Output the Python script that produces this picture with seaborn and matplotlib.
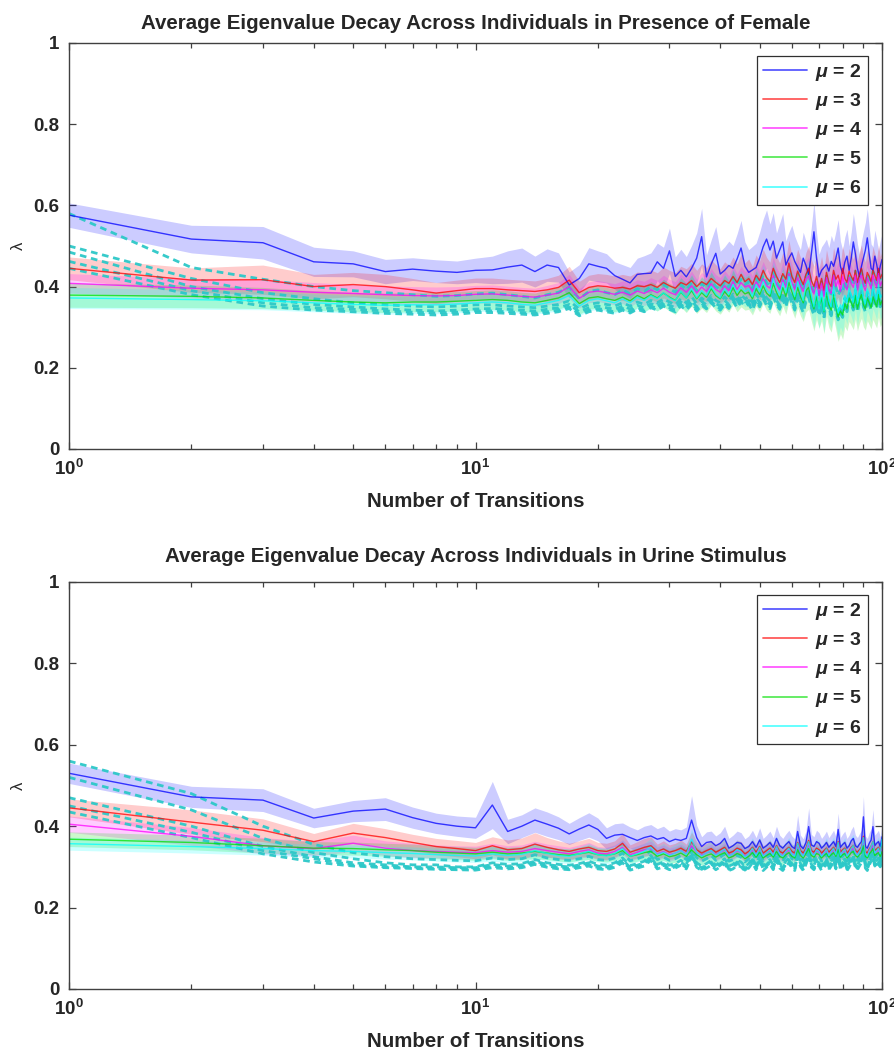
import numpy as np
import matplotlib
matplotlib.use('Agg')
import matplotlib.pyplot as plt
import seaborn as sns
from matplotlib.lines import Line2D
from matplotlib.ticker import LogLocator, NullFormatter

# ---------------- data ----------------
transitions = list(range(1, 101))
mu_labels = ['2', '3', '4', '5', '6']

# Presence of Female (top panel): mean eigenvalue per mu
F_mu2 = [0.576,0.517,0.508,0.461,0.456,0.437,0.443,0.438,0.435,0.440,
         0.441,0.448,0.453,0.437,0.453,0.447,0.404,0.420,0.456,0.450,
         0.445,0.427,0.418,0.409,0.430,0.432,0.433,0.461,0.445,0.488,
         0.425,0.440,0.424,0.445,0.470,0.523,0.424,0.455,0.482,0.431,
         0.440,0.452,0.445,0.468,0.495,0.450,0.435,0.441,0.447,0.470,
         0.498,0.517,0.490,0.512,0.470,0.490,0.510,0.453,0.470,0.483,
         0.462,0.448,0.435,0.470,0.452,0.430,0.480,0.535,0.470,0.424,
         0.440,0.447,0.455,0.438,0.462,0.450,0.470,0.495,0.450,0.432,
         0.460,0.475,0.440,0.470,0.510,0.480,0.445,0.424,0.450,0.470,
         0.490,0.520,0.480,0.445,0.440,0.475,0.455,0.430,0.450,0.467]
F_mu3 = [0.445,0.416,0.417,0.400,0.405,0.400,0.392,0.384,0.390,0.395,
         0.395,0.392,0.390,0.388,0.392,0.398,0.416,0.385,0.398,0.402,
         0.400,0.396,0.398,0.394,0.402,0.400,0.405,0.398,0.410,0.402,
         0.396,0.410,0.404,0.415,0.400,0.412,0.405,0.420,0.410,0.402,
         0.415,0.408,0.425,0.410,0.430,0.412,0.420,0.405,0.428,0.415,
         0.440,0.422,0.412,0.445,0.425,0.410,0.432,0.418,0.458,0.425,
         0.410,0.438,0.420,0.405,0.430,0.445,0.415,0.400,0.425,0.395,
         0.420,0.390,0.435,0.410,0.400,0.440,0.418,0.428,0.405,0.445,
         0.420,0.410,0.438,0.425,0.415,0.440,0.410,0.430,0.445,0.420,
         0.408,0.435,0.425,0.412,0.440,0.428,0.415,0.445,0.420,0.430]
F_mu4 = [0.408,0.396,0.392,0.386,0.383,0.380,0.378,0.377,0.378,0.381,
         0.382,0.379,0.376,0.374,0.379,0.384,0.400,0.371,0.386,0.389,
         0.385,0.381,0.386,0.379,0.389,0.383,0.392,0.385,0.396,0.386,
         0.380,0.397,0.386,0.402,0.384,0.399,0.388,0.407,0.393,0.386,
         0.402,0.390,0.412,0.393,0.410,0.399,0.403,0.388,0.412,0.398,
         0.420,0.402,0.396,0.428,0.405,0.392,0.418,0.398,0.432,0.412,
         0.392,0.423,0.402,0.388,0.418,0.427,0.398,0.382,0.412,0.378,
         0.408,0.375,0.422,0.392,0.383,0.428,0.400,0.415,0.388,0.425,
         0.402,0.392,0.423,0.408,0.398,0.428,0.392,0.418,0.428,0.402,
         0.390,0.422,0.408,0.395,0.428,0.410,0.398,0.432,0.402,0.412]
F_mu5 = [0.379,0.376,0.372,0.366,0.362,0.360,0.362,0.362,0.364,0.366,
         0.368,0.366,0.362,0.360,0.366,0.372,0.385,0.358,0.372,0.375,
         0.370,0.366,0.374,0.365,0.378,0.370,0.380,0.372,0.384,0.374,
         0.366,0.386,0.372,0.390,0.370,0.385,0.374,0.395,0.378,0.370,
         0.388,0.375,0.398,0.378,0.392,0.382,0.386,0.370,0.395,0.380,
         0.402,0.384,0.376,0.408,0.386,0.370,0.398,0.376,0.410,0.388,
         0.368,0.398,0.376,0.360,0.390,0.398,0.365,0.345,0.375,0.350,
         0.372,0.338,0.385,0.355,0.342,0.380,0.350,0.325,0.340,0.330,
         0.358,0.345,0.372,0.360,0.348,0.378,0.345,0.366,0.380,0.355,
         0.345,0.372,0.360,0.348,0.375,0.362,0.350,0.380,0.355,0.365]
F_mu6 = [0.372,0.368,0.365,0.360,0.356,0.354,0.355,0.355,0.357,0.360,
         0.362,0.360,0.356,0.354,0.360,0.366,0.378,0.352,0.366,0.370,
         0.365,0.360,0.370,0.360,0.374,0.366,0.378,0.370,0.385,0.372,
         0.365,0.388,0.372,0.395,0.372,0.390,0.378,0.400,0.382,0.372,
         0.395,0.380,0.405,0.385,0.400,0.388,0.395,0.375,0.405,0.388,
         0.412,0.392,0.382,0.420,0.395,0.378,0.410,0.385,0.425,0.400,
         0.375,0.412,0.388,0.365,0.405,0.415,0.380,0.350,0.392,0.345,
         0.388,0.340,0.405,0.365,0.350,0.400,0.360,0.335,0.355,0.345,
         0.378,0.360,0.395,0.380,0.362,0.402,0.358,0.388,0.405,0.372,
         0.358,0.395,0.380,0.362,0.400,0.385,0.368,0.405,0.372,0.380]

# Presence of Female: spread (shaded band half-width)
F_mu2_sd = [0.030,0.034,0.040,0.036,0.032,0.030,0.028,0.028,0.028,0.030,
            0.034,0.040,0.042,0.038,0.040,0.036,0.032,0.034,0.040,0.038,
            0.036,0.034,0.036,0.038,0.040,0.044,0.050,0.046,0.052,0.056,
            0.048,0.052,0.050,0.056,0.062,0.070,0.054,0.060,0.066,0.056,
            0.058,0.060,0.056,0.062,0.068,0.060,0.056,0.058,0.060,0.064,
            0.068,0.072,0.064,0.070,0.062,0.066,0.070,0.060,0.064,0.068,
            0.062,0.058,0.056,0.064,0.060,0.058,0.066,0.074,0.064,0.056,
            0.058,0.060,0.062,0.058,0.064,0.060,0.066,0.070,0.062,0.058,
            0.062,0.066,0.060,0.064,0.070,0.066,0.060,0.056,0.062,0.066,
            0.068,0.072,0.066,0.060,0.058,0.064,0.062,0.058,0.062,0.064]
F_mu3_sd = [0.028,0.030,0.036,0.030,0.030,0.030,0.028,0.026,0.026,0.026,
            0.026,0.026,0.026,0.026,0.028,0.030,0.034,0.028,0.030,0.030,
            0.030,0.030,0.032,0.032,0.034,0.034,0.036,0.036,0.038,0.038,
            0.038,0.040,0.040,0.042,0.040,0.044,0.042,0.046,0.044,0.042,
            0.046,0.044,0.048,0.046,0.050,0.046,0.048,0.044,0.050,0.048,
            0.052,0.050,0.048,0.054,0.050,0.048,0.052,0.050,0.056,0.052,
            0.050,0.054,0.052,0.050,0.054,0.056,0.052,0.050,0.054,0.050,
            0.054,0.050,0.056,0.052,0.050,0.056,0.052,0.054,0.050,0.056,
            0.054,0.052,0.056,0.054,0.052,0.058,0.052,0.056,0.058,0.054,
            0.052,0.056,0.054,0.052,0.058,0.054,0.052,0.058,0.054,0.056]
F_mu4_sd = [0.024,0.024,0.026,0.024,0.022,0.022,0.022,0.022,0.022,0.022,
            0.022,0.022,0.022,0.022,0.024,0.026,0.030,0.024,0.026,0.026,
            0.026,0.026,0.028,0.028,0.028,0.030,0.030,0.030,0.032,0.032,
            0.032,0.034,0.034,0.036,0.034,0.036,0.036,0.038,0.036,0.036,
            0.038,0.036,0.040,0.038,0.040,0.038,0.040,0.038,0.042,0.040,
            0.042,0.040,0.040,0.044,0.042,0.040,0.044,0.042,0.046,0.044,
            0.042,0.046,0.044,0.042,0.046,0.046,0.044,0.042,0.046,0.042,
            0.046,0.042,0.046,0.044,0.042,0.046,0.044,0.046,0.042,0.046,
            0.044,0.042,0.046,0.044,0.042,0.048,0.044,0.046,0.048,0.044,
            0.042,0.046,0.044,0.042,0.048,0.044,0.042,0.048,0.044,0.046]
F_mu5_sd = [0.030,0.028,0.026,0.024,0.024,0.024,0.024,0.024,0.024,0.024,
            0.024,0.024,0.024,0.024,0.026,0.028,0.030,0.026,0.028,0.028,
            0.028,0.028,0.030,0.030,0.030,0.032,0.032,0.032,0.034,0.034,
            0.034,0.036,0.036,0.038,0.036,0.038,0.038,0.040,0.038,0.038,
            0.040,0.038,0.042,0.040,0.042,0.040,0.042,0.040,0.044,0.042,
            0.044,0.042,0.042,0.046,0.044,0.042,0.046,0.044,0.048,0.046,
            0.046,0.050,0.048,0.046,0.052,0.054,0.050,0.054,0.056,0.052,
            0.056,0.054,0.058,0.056,0.054,0.058,0.056,0.060,0.056,0.060,
            0.056,0.054,0.058,0.056,0.054,0.058,0.054,0.056,0.058,0.054,
            0.052,0.056,0.054,0.052,0.056,0.054,0.052,0.056,0.054,0.054]
F_mu6_sd = [0.026,0.024,0.022,0.022,0.022,0.022,0.022,0.022,0.022,0.022,
            0.022,0.022,0.022,0.022,0.024,0.026,0.028,0.024,0.026,0.026,
            0.026,0.026,0.028,0.028,0.028,0.030,0.030,0.030,0.032,0.032,
            0.032,0.034,0.034,0.036,0.034,0.036,0.036,0.038,0.036,0.036,
            0.038,0.036,0.040,0.038,0.040,0.038,0.040,0.038,0.042,0.040,
            0.042,0.040,0.040,0.044,0.042,0.040,0.044,0.042,0.046,0.044,
            0.044,0.048,0.046,0.044,0.050,0.052,0.048,0.052,0.054,0.050,
            0.054,0.052,0.056,0.054,0.052,0.056,0.054,0.058,0.054,0.058,
            0.054,0.052,0.056,0.054,0.052,0.056,0.052,0.054,0.056,0.052,
            0.050,0.054,0.052,0.050,0.054,0.052,0.050,0.054,0.052,0.052]

# Presence of Female: dashed reference curves
F_dash1 = [0.580,0.447,0.418,0.400,0.390,0.385,0.380,0.376,0.378,0.382,
           0.384,0.380,0.376,0.372,0.380,0.386,0.398,0.370,0.388,0.392,
           0.385,0.380,0.392,0.382,0.395,0.388,0.400,0.392,0.405,0.395,
           0.386,0.405,0.392,0.410,0.390,0.408,0.396,0.415,0.400,0.392,
           0.412,0.398,0.420,0.402,0.418,0.405,0.412,0.395,0.420,0.405,
           0.428,0.410,0.400,0.435,0.412,0.398,0.428,0.405,0.440,0.418,
           0.398,0.430,0.410,0.392,0.425,0.438,0.405,0.385,0.418,0.380,
           0.412,0.375,0.430,0.395,0.382,0.428,0.400,0.378,0.392,0.385,
           0.415,0.398,0.432,0.418,0.402,0.438,0.398,0.425,0.440,0.410,
           0.398,0.432,0.418,0.402,0.438,0.422,0.408,0.442,0.412,0.420]
F_dash2 = [0.500,0.420,0.385,0.370,0.360,0.355,0.352,0.350,0.352,0.355,
           0.355,0.352,0.350,0.348,0.352,0.356,0.365,0.345,0.356,0.360,
           0.356,0.352,0.360,0.352,0.362,0.356,0.366,0.360,0.370,0.362,
           0.355,0.370,0.360,0.375,0.358,0.372,0.362,0.378,0.366,0.360,
           0.375,0.364,0.382,0.366,0.380,0.370,0.375,0.360,0.382,0.368,
           0.388,0.372,0.364,0.392,0.374,0.362,0.386,0.368,0.396,0.378,
           0.360,0.388,0.370,0.354,0.382,0.392,0.366,0.348,0.376,0.345,
           0.372,0.340,0.388,0.358,0.346,0.385,0.356,0.336,0.352,0.342,
           0.372,0.356,0.388,0.375,0.360,0.392,0.355,0.380,0.394,0.368,
           0.356,0.386,0.374,0.360,0.392,0.378,0.364,0.396,0.368,0.375]
F_dash3 = [0.485,0.400,0.370,0.356,0.350,0.345,0.342,0.340,0.342,0.345,
           0.346,0.344,0.342,0.340,0.344,0.348,0.356,0.338,0.348,0.352,
           0.348,0.344,0.352,0.345,0.354,0.348,0.358,0.352,0.362,0.354,
           0.348,0.362,0.352,0.366,0.350,0.364,0.355,0.370,0.358,0.352,
           0.366,0.356,0.374,0.358,0.372,0.362,0.366,0.352,0.374,0.360,
           0.380,0.364,0.356,0.384,0.366,0.354,0.378,0.360,0.388,0.370,
           0.352,0.380,0.362,0.346,0.374,0.384,0.358,0.340,0.368,0.338,
           0.364,0.332,0.380,0.350,0.338,0.376,0.348,0.328,0.344,0.334,
           0.364,0.348,0.380,0.366,0.352,0.384,0.347,0.372,0.386,0.360,
           0.348,0.378,0.366,0.352,0.384,0.370,0.356,0.388,0.360,0.367]
F_dash4 = [0.462,0.390,0.360,0.348,0.344,0.340,0.337,0.335,0.337,0.340,
           0.340,0.338,0.336,0.334,0.338,0.342,0.350,0.332,0.342,0.346,
           0.342,0.338,0.346,0.339,0.348,0.342,0.352,0.346,0.356,0.348,
           0.342,0.356,0.346,0.360,0.344,0.358,0.349,0.364,0.352,0.346,
           0.360,0.350,0.368,0.352,0.366,0.356,0.360,0.346,0.368,0.354,
           0.374,0.358,0.350,0.378,0.360,0.348,0.372,0.354,0.382,0.364,
           0.346,0.374,0.356,0.340,0.368,0.378,0.352,0.334,0.362,0.332,
           0.358,0.326,0.374,0.344,0.332,0.370,0.342,0.322,0.338,0.328,
           0.358,0.342,0.374,0.360,0.346,0.378,0.341,0.366,0.380,0.354,
           0.342,0.372,0.360,0.346,0.378,0.364,0.350,0.382,0.354,0.361]
F_dash5 = [0.445,0.380,0.352,0.342,0.338,0.334,0.332,0.330,0.332,0.336,
           0.336,0.334,0.332,0.330,0.334,0.338,0.346,0.328,0.338,0.342,
           0.338,0.334,0.342,0.335,0.344,0.338,0.348,0.342,0.352,0.344,
           0.338,0.352,0.342,0.356,0.340,0.354,0.345,0.360,0.348,0.342,
           0.356,0.346,0.364,0.348,0.362,0.352,0.356,0.342,0.364,0.350,
           0.370,0.354,0.346,0.374,0.356,0.344,0.368,0.350,0.378,0.360,
           0.342,0.370,0.352,0.336,0.364,0.374,0.348,0.330,0.358,0.328,
           0.354,0.322,0.370,0.340,0.328,0.366,0.338,0.318,0.334,0.324,
           0.354,0.338,0.370,0.356,0.342,0.374,0.337,0.362,0.376,0.350,
           0.338,0.368,0.356,0.342,0.374,0.360,0.346,0.378,0.350,0.357]

# Urine Stimulus (bottom panel): mean eigenvalue per mu
U_mu2 = [0.530,0.472,0.464,0.420,0.437,0.442,0.421,0.407,0.400,0.396,
         0.452,0.387,0.400,0.415,0.405,0.395,0.381,0.393,0.403,0.392,
         0.370,0.378,0.380,0.372,0.365,0.372,0.376,0.368,0.372,0.362,
         0.368,0.365,0.370,0.415,0.372,0.350,0.360,0.362,0.352,0.358,
         0.370,0.346,0.352,0.360,0.358,0.345,0.350,0.362,0.348,0.366,
         0.346,0.352,0.360,0.348,0.370,0.352,0.346,0.355,0.362,0.350,
         0.345,0.387,0.352,0.345,0.360,0.399,0.354,0.350,0.362,0.358,
         0.346,0.352,0.360,0.348,0.355,0.362,0.350,0.392,0.348,0.355,
         0.360,0.346,0.352,0.364,0.370,0.352,0.348,0.356,0.362,0.423,
         0.350,0.346,0.358,0.366,0.399,0.352,0.358,0.362,0.350,0.374]
U_mu3 = [0.445,0.410,0.390,0.362,0.383,0.372,0.360,0.350,0.345,0.340,
         0.352,0.342,0.345,0.356,0.348,0.342,0.338,0.344,0.348,0.340,
         0.338,0.344,0.358,0.336,0.342,0.348,0.352,0.338,0.344,0.336,
         0.340,0.346,0.338,0.362,0.342,0.334,0.340,0.345,0.336,0.342,
         0.348,0.334,0.338,0.346,0.342,0.332,0.338,0.348,0.336,0.350,
         0.334,0.340,0.346,0.336,0.352,0.338,0.334,0.342,0.348,0.338,
         0.334,0.360,0.340,0.334,0.346,0.365,0.340,0.336,0.346,0.342,
         0.334,0.340,0.346,0.336,0.342,0.348,0.338,0.362,0.336,0.342,
         0.346,0.334,0.340,0.348,0.352,0.340,0.336,0.342,0.348,0.375,
         0.338,0.334,0.344,0.350,0.362,0.340,0.344,0.348,0.338,0.352]
U_mu4 = [0.405,0.375,0.352,0.345,0.358,0.346,0.340,0.338,0.336,0.335,
         0.340,0.336,0.338,0.345,0.340,0.336,0.332,0.338,0.342,0.334,
         0.332,0.338,0.348,0.330,0.336,0.342,0.345,0.332,0.338,0.330,
         0.334,0.340,0.332,0.352,0.336,0.328,0.334,0.339,0.330,0.336,
         0.342,0.328,0.332,0.340,0.336,0.326,0.332,0.342,0.330,0.344,
         0.328,0.334,0.340,0.330,0.346,0.332,0.328,0.336,0.342,0.332,
         0.328,0.352,0.334,0.328,0.340,0.356,0.334,0.330,0.340,0.336,
         0.328,0.334,0.340,0.330,0.336,0.342,0.332,0.354,0.330,0.336,
         0.340,0.328,0.334,0.342,0.346,0.334,0.330,0.336,0.342,0.365,
         0.332,0.328,0.338,0.344,0.355,0.334,0.338,0.342,0.332,0.346]
U_mu5 = [0.368,0.360,0.352,0.346,0.345,0.342,0.340,0.336,0.334,0.332,
         0.336,0.332,0.334,0.338,0.334,0.330,0.328,0.332,0.336,0.330,
         0.328,0.332,0.340,0.326,0.330,0.335,0.338,0.326,0.332,0.325,
         0.328,0.334,0.326,0.342,0.330,0.322,0.328,0.332,0.324,0.330,
         0.335,0.322,0.326,0.333,0.329,0.320,0.326,0.335,0.324,0.336,
         0.322,0.328,0.333,0.324,0.338,0.326,0.322,0.330,0.335,0.326,
         0.322,0.342,0.328,0.322,0.333,0.345,0.328,0.324,0.333,0.330,
         0.322,0.328,0.333,0.324,0.330,0.335,0.326,0.343,0.324,0.330,
         0.333,0.322,0.328,0.335,0.338,0.328,0.324,0.330,0.335,0.352,
         0.326,0.322,0.332,0.337,0.345,0.328,0.332,0.335,0.326,0.338]
U_mu6 = [0.357,0.350,0.345,0.340,0.338,0.335,0.333,0.330,0.328,0.327,
         0.332,0.328,0.331,0.340,0.333,0.328,0.326,0.332,0.338,0.330,
         0.327,0.333,0.345,0.326,0.332,0.338,0.348,0.330,0.336,0.328,
         0.334,0.340,0.330,0.368,0.336,0.326,0.334,0.340,0.328,0.336,
         0.344,0.326,0.332,0.342,0.336,0.324,0.332,0.346,0.328,0.348,
         0.326,0.334,0.342,0.328,0.350,0.332,0.326,0.338,0.346,0.332,
         0.326,0.358,0.336,0.326,0.342,0.362,0.334,0.328,0.342,0.338,
         0.326,0.334,0.344,0.328,0.338,0.346,0.330,0.360,0.328,0.338,
         0.344,0.326,0.334,0.346,0.352,0.334,0.328,0.338,0.346,0.372,
         0.332,0.326,0.340,0.350,0.362,0.334,0.340,0.346,0.332,0.368]

# Urine Stimulus: spread (shaded band half-width)
U_mu2_sd = [0.025,0.026,0.028,0.024,0.026,0.028,0.026,0.025,0.025,0.026,
            0.058,0.030,0.028,0.030,0.030,0.028,0.026,0.028,0.030,0.028,
            0.026,0.028,0.028,0.026,0.026,0.028,0.028,0.026,0.028,0.026,
            0.026,0.026,0.028,0.060,0.030,0.024,0.026,0.026,0.024,0.026,
            0.030,0.024,0.026,0.028,0.026,0.024,0.026,0.028,0.024,0.030,
            0.024,0.026,0.028,0.024,0.030,0.026,0.024,0.026,0.028,0.026,
            0.024,0.040,0.026,0.024,0.028,0.046,0.026,0.024,0.028,0.026,
            0.024,0.026,0.028,0.024,0.026,0.028,0.024,0.040,0.024,0.026,
            0.028,0.024,0.026,0.028,0.030,0.026,0.024,0.026,0.028,0.050,
            0.026,0.024,0.026,0.028,0.042,0.026,0.026,0.028,0.024,0.030]
U_mu3_sd = [0.022,0.030,0.028,0.020,0.024,0.022,0.020,0.020,0.020,0.020,
            0.022,0.024,0.026,0.028,0.024,0.022,0.020,0.020,0.022,0.020,
            0.020,0.020,0.024,0.018,0.020,0.022,0.022,0.018,0.020,0.018,
            0.018,0.020,0.018,0.024,0.020,0.018,0.018,0.020,0.018,0.020,
            0.020,0.018,0.018,0.020,0.020,0.018,0.018,0.020,0.018,0.020,
            0.018,0.018,0.020,0.018,0.020,0.018,0.018,0.018,0.020,0.018,
            0.018,0.022,0.018,0.018,0.020,0.024,0.018,0.018,0.020,0.018,
            0.018,0.018,0.020,0.018,0.018,0.020,0.018,0.022,0.018,0.018,
            0.020,0.018,0.018,0.020,0.020,0.018,0.018,0.018,0.020,0.026,
            0.018,0.018,0.018,0.020,0.024,0.018,0.018,0.020,0.018,0.020]
U_mu4_sd = [0.020,0.022,0.020,0.018,0.020,0.018,0.018,0.016,0.016,0.016,
            0.018,0.016,0.016,0.018,0.016,0.016,0.016,0.016,0.018,0.016,
            0.016,0.016,0.018,0.016,0.016,0.016,0.018,0.016,0.016,0.016,
            0.016,0.016,0.016,0.020,0.016,0.016,0.016,0.016,0.016,0.016,
            0.018,0.016,0.016,0.016,0.016,0.016,0.016,0.018,0.016,0.018,
            0.016,0.016,0.018,0.016,0.018,0.016,0.016,0.016,0.018,0.016,
            0.016,0.020,0.016,0.016,0.018,0.022,0.016,0.016,0.018,0.016,
            0.016,0.016,0.018,0.016,0.016,0.018,0.016,0.020,0.016,0.016,
            0.018,0.016,0.016,0.018,0.018,0.016,0.016,0.016,0.018,0.024,
            0.016,0.016,0.016,0.018,0.022,0.016,0.016,0.018,0.016,0.018]
U_mu5_sd = [0.018,0.018,0.018,0.016,0.016,0.016,0.016,0.016,0.016,0.016,
            0.016,0.016,0.016,0.018,0.016,0.016,0.016,0.016,0.018,0.016,
            0.016,0.016,0.018,0.016,0.016,0.016,0.018,0.016,0.016,0.016,
            0.018,0.018,0.018,0.020,0.018,0.018,0.018,0.018,0.018,0.018,
            0.020,0.018,0.018,0.018,0.018,0.018,0.018,0.020,0.018,0.020,
            0.018,0.018,0.020,0.018,0.020,0.018,0.018,0.018,0.020,0.018,
            0.018,0.022,0.018,0.018,0.020,0.022,0.018,0.018,0.020,0.018,
            0.018,0.018,0.020,0.018,0.018,0.020,0.018,0.022,0.018,0.018,
            0.020,0.018,0.018,0.020,0.020,0.018,0.018,0.018,0.020,0.024,
            0.018,0.018,0.018,0.020,0.022,0.018,0.018,0.020,0.018,0.020]
U_mu6_sd = [0.016,0.016,0.016,0.016,0.016,0.016,0.016,0.016,0.016,0.016,
            0.018,0.018,0.018,0.020,0.018,0.018,0.018,0.018,0.020,0.018,
            0.020,0.020,0.022,0.020,0.020,0.020,0.022,0.020,0.022,0.020,
            0.022,0.022,0.022,0.026,0.022,0.022,0.022,0.024,0.022,0.024,
            0.026,0.024,0.024,0.024,0.024,0.024,0.024,0.026,0.024,0.026,
            0.024,0.024,0.026,0.024,0.026,0.024,0.026,0.024,0.026,0.024,
            0.026,0.028,0.026,0.024,0.026,0.030,0.026,0.026,0.028,0.026,
            0.026,0.026,0.028,0.026,0.026,0.028,0.026,0.030,0.026,0.026,
            0.028,0.026,0.026,0.028,0.028,0.026,0.026,0.026,0.028,0.032,
            0.026,0.026,0.026,0.028,0.030,0.026,0.026,0.028,0.026,0.028]

# Urine Stimulus: dashed reference curves
U_dash1 = [0.560,0.480,0.400,0.355,0.335,0.325,0.320,0.318,0.316,0.315,
           0.322,0.318,0.320,0.330,0.322,0.318,0.316,0.320,0.326,0.318,
           0.316,0.322,0.334,0.315,0.320,0.326,0.340,0.318,0.324,0.316,
           0.320,0.328,0.318,0.348,0.322,0.314,0.320,0.328,0.316,0.324,
           0.332,0.314,0.318,0.328,0.324,0.312,0.320,0.334,0.316,0.338,
           0.314,0.322,0.330,0.316,0.340,0.320,0.314,0.326,0.334,0.320,
           0.314,0.348,0.324,0.314,0.330,0.352,0.322,0.316,0.330,0.326,
           0.314,0.322,0.332,0.316,0.326,0.336,0.318,0.350,0.316,0.326,
           0.332,0.314,0.322,0.334,0.340,0.322,0.316,0.326,0.334,0.362,
           0.320,0.314,0.328,0.338,0.350,0.322,0.328,0.334,0.320,0.358]
U_dash2 = [0.520,0.440,0.370,0.335,0.320,0.310,0.305,0.305,0.300,0.300,
           0.310,0.306,0.308,0.318,0.310,0.306,0.304,0.308,0.314,0.306,
           0.304,0.310,0.322,0.303,0.308,0.314,0.328,0.306,0.312,0.304,
           0.308,0.316,0.306,0.336,0.310,0.302,0.308,0.316,0.304,0.312,
           0.320,0.302,0.306,0.316,0.312,0.300,0.308,0.322,0.304,0.326,
           0.302,0.310,0.318,0.304,0.328,0.308,0.302,0.314,0.322,0.308,
           0.302,0.336,0.312,0.302,0.318,0.340,0.310,0.304,0.318,0.314,
           0.302,0.310,0.320,0.304,0.314,0.324,0.306,0.338,0.304,0.314,
           0.320,0.302,0.310,0.322,0.328,0.310,0.304,0.314,0.322,0.350,
           0.308,0.302,0.316,0.326,0.338,0.310,0.316,0.322,0.308,0.346]
U_dash3 = [0.470,0.400,0.350,0.325,0.310,0.305,0.300,0.300,0.298,0.298,
           0.306,0.302,0.305,0.314,0.306,0.302,0.300,0.305,0.310,0.302,
           0.300,0.306,0.318,0.299,0.304,0.310,0.324,0.302,0.308,0.300,
           0.304,0.312,0.302,0.332,0.306,0.298,0.304,0.312,0.300,0.308,
           0.316,0.298,0.302,0.312,0.308,0.296,0.304,0.318,0.300,0.322,
           0.298,0.306,0.314,0.300,0.324,0.304,0.298,0.310,0.318,0.304,
           0.298,0.332,0.308,0.298,0.314,0.336,0.306,0.300,0.314,0.310,
           0.298,0.306,0.316,0.300,0.310,0.320,0.302,0.334,0.300,0.310,
           0.316,0.298,0.306,0.318,0.324,0.306,0.300,0.310,0.318,0.346,
           0.304,0.298,0.312,0.322,0.334,0.306,0.312,0.318,0.304,0.342]
U_dash4 = [0.450,0.385,0.340,0.320,0.305,0.300,0.298,0.296,0.295,0.295,
           0.302,0.298,0.301,0.310,0.302,0.298,0.296,0.301,0.306,0.298,
           0.296,0.302,0.314,0.295,0.300,0.306,0.320,0.298,0.304,0.296,
           0.300,0.308,0.298,0.328,0.302,0.294,0.300,0.308,0.296,0.304,
           0.312,0.294,0.298,0.308,0.304,0.292,0.300,0.314,0.296,0.318,
           0.294,0.302,0.310,0.296,0.320,0.300,0.294,0.306,0.314,0.300,
           0.294,0.328,0.304,0.294,0.310,0.332,0.302,0.296,0.310,0.306,
           0.294,0.302,0.312,0.296,0.306,0.316,0.298,0.330,0.296,0.306,
           0.312,0.294,0.302,0.314,0.320,0.302,0.296,0.306,0.314,0.342,
           0.300,0.294,0.308,0.318,0.330,0.302,0.308,0.314,0.300,0.338]
U_dash5 = [0.435,0.372,0.332,0.312,0.302,0.298,0.296,0.294,0.293,0.292,
           0.298,0.295,0.298,0.306,0.299,0.295,0.293,0.298,0.302,0.295,
           0.293,0.299,0.310,0.292,0.297,0.302,0.316,0.295,0.300,0.293,
           0.297,0.304,0.295,0.324,0.299,0.291,0.297,0.304,0.293,0.300,
           0.308,0.291,0.295,0.304,0.300,0.290,0.297,0.310,0.293,0.314,
           0.291,0.299,0.306,0.293,0.316,0.297,0.291,0.302,0.310,0.297,
           0.291,0.324,0.300,0.291,0.306,0.328,0.299,0.293,0.306,0.302,
           0.291,0.299,0.308,0.293,0.302,0.312,0.295,0.326,0.293,0.302,
           0.308,0.291,0.299,0.310,0.316,0.299,0.293,0.302,0.310,0.338,
           0.297,0.291,0.304,0.314,0.326,0.299,0.304,0.310,0.297,0.334]

titles = ['Average Eigenvalue Decay Across Individuals in Presence of Female',
          'Average Eigenvalue Decay Across Individuals in Urine Stimulus']
x_label = 'Number of Transitions'
y_label = '\u03bb'
x_tick_vals = [1, 10, 100]
x_tick_labels = [r'$10^{0}$', r'$10^{1}$', r'$10^{2}$']
y_tick_vals = [0, 0.2, 0.4, 0.6, 0.8, 1]
y_tick_labels = ['0', '0.2', '0.4', '0.6', '0.8', '1']

# ---------------- style ----------------
sns.set_style('white')
plt.rcParams['font.family'] = ['Liberation Sans', 'DejaVu Sans']
plt.rcParams['font.weight'] = 'bold'
plt.rcParams['mathtext.fontset'] = 'custom'
plt.rcParams['mathtext.rm'] = 'Liberation Sans:bold'
plt.rcParams['mathtext.it'] = 'Liberation Sans:italic:bold'
plt.rcParams['mathtext.bf'] = 'Liberation Sans:bold'

line_colors = ['#0000ff', '#ff0000', '#ff00ff', '#00e000', '#00ffff']
dash_color = '#2cc8c8'
spine_color = '#404040'

fig = plt.figure(figsize=(8.95, 10.53), dpi=100)
ax_top = fig.add_axes([0.0771, 0.5736, 0.9084, 0.3856])
ax_bot = fig.add_axes([0.0771, 0.0608, 0.9084, 0.3865])


def draw_panel(ax, means, sds, dashed, title, title_pad):
    x = np.array(transitions, dtype=float)
    for m, s, c in zip(means, sds, line_colors):
        m = np.asarray(m, dtype=float)
        s = np.asarray(s, dtype=float)
        ax.fill_between(x, m - s, m + s, color=c, alpha=0.2, lw=0)
    for d in dashed:
        sns.lineplot(x=x, y=np.asarray(d), ax=ax, color=dash_color, lw=2.0, alpha=0.95)
        ax.lines[-1].set_dashes([2.4, 1.7])
    for m, c in zip(means, line_colors):
        sns.lineplot(x=x, y=np.asarray(m), ax=ax, color=c, lw=1.0, alpha=0.75)

    ax.set_xscale('log')
    ax.set_xlim(1, 100)
    ax.set_ylim(0, 1)
    ax.set_xticks(x_tick_vals)
    ax.set_xticklabels(x_tick_labels)
    ax.xaxis.set_minor_locator(LogLocator(base=10, subs=np.arange(2, 10)))
    ax.xaxis.set_minor_formatter(NullFormatter())
    ax.set_yticks(y_tick_vals)
    ax.set_yticklabels(y_tick_labels)
    ax.tick_params(which='both', direction='in', top=True, right=True,
                   bottom=True, left=True, color=spine_color, width=0.9)
    ax.tick_params(which='major', length=5, labelsize=13.5)
    ax.tick_params(axis='x', which='major', pad=7)
    ax.tick_params(axis='y', which='major', pad=7)
    ax.tick_params(which='minor', length=3.5)
    for sp in ax.spines.values():
        sp.set_visible(True)
        sp.set_color(spine_color)
        sp.set_linewidth(1.0)

    ax.set_title(title, fontsize=14.8, fontweight='bold', pad=title_pad)
    ax.set_xlabel(x_label, fontsize=14.8, fontweight='bold', labelpad=9.5)
    ax.set_ylabel(y_label, fontsize=12, fontweight='normal', labelpad=5)

    handles = [Line2D([0], [0], color=c, lw=1.3, alpha=0.65) for c in line_colors]
    labels = [rf'$\mu$ = {m}' for m in mu_labels]
    leg = ax.legend(handles, labels, loc='upper right', bbox_to_anchor=(0.983, 0.968),
                    fontsize=14, frameon=True, fancybox=False, edgecolor='#303030',
                    framealpha=1, handlelength=2.3, handletextpad=0.4,
                    labelspacing=0.42, borderpad=0.3, borderaxespad=0)
    leg.get_frame().set_linewidth(0.9)


draw_panel(ax_top, [F_mu2, F_mu3, F_mu4, F_mu5, F_mu6],
           [F_mu2_sd, F_mu3_sd, F_mu4_sd, F_mu5_sd, F_mu6_sd],
           [F_dash1, F_dash2, F_dash3, F_dash4, F_dash5], titles[0], 10)
draw_panel(ax_bot, [U_mu2, U_mu3, U_mu4, U_mu5, U_mu6],
           [U_mu2_sd, U_mu3_sd, U_mu4_sd, U_mu5_sd, U_mu6_sd],
           [U_dash1, U_dash2, U_dash3, U_dash4, U_dash5], titles[1], 14.5)

fig.savefig('out.png', dpi=100)
